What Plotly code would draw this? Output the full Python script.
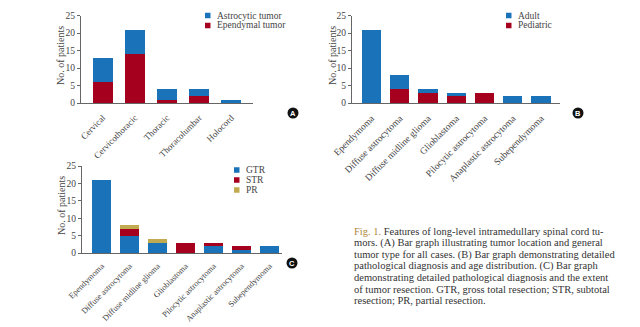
import plotly.graph_objects as go

W, H = 640, 327

# ---------------- data ----------------
loc_categories = ["Cervical", "Cervicothoracic", "Thoracic", "Thoracolumbar", "Holocord"]
loc_ependymal = [6, 14, 1, 2, 0]
loc_astrocytic = [7, 7, 3, 2, 1]

path_categories = ["Ependymoma", "Diffuse astrocytoma", "Diffuse midline glioma", "Glioblastoma",
                   "Pilocytic astrocytoma", "Anaplastic astrocytoma", "Subependymoma"]
age_pediatric = [0, 4, 3, 2, 3, 0, 0]
age_adult = [21, 4, 1, 1, 0, 2, 2]

res_gtr = [21, 5, 3, 0, 2, 1, 2]
res_str = [0, 2, 0, 3, 1, 1, 0]
res_pr = [0, 1, 1, 0, 0, 0, 0]

y_ticks = [0, 5, 10, 15, 20, 25]

BLUE = "#1a72b8"
RED = "#a6001f"
GOLD = "#c2aa50"
SERIF = "Liberation Serif, Times New Roman, serif"
AX = "#666666"
TXT = "#444444"


def px(x):
    return x / W


def py(y):
    return 1 - y / H


fig = go.Figure()

# Panel A
fig.add_trace(go.Bar(x=loc_categories, y=loc_ependymal, name="Ependymal tumor",
                     marker_color=RED, xaxis="x", yaxis="y", width=0.62))
fig.add_trace(go.Bar(x=loc_categories, y=loc_astrocytic, name="Astrocytic tumor",
                     marker_color=BLUE, xaxis="x", yaxis="y", width=0.62))
# Panel B
fig.add_trace(go.Bar(x=path_categories, y=age_pediatric, name="Pediatric",
                     marker_color=RED, xaxis="x2", yaxis="y2", width=0.68))
fig.add_trace(go.Bar(x=path_categories, y=age_adult, name="Adult",
                     marker_color=BLUE, xaxis="x2", yaxis="y2", width=0.68))
# Panel C
fig.add_trace(go.Bar(x=path_categories, y=res_gtr, name="GTR",
                     marker_color=BLUE, xaxis="x3", yaxis="y3", width=0.68))
fig.add_trace(go.Bar(x=path_categories, y=res_str, name="STR",
                     marker_color=RED, xaxis="x3", yaxis="y3", width=0.68))
fig.add_trace(go.Bar(x=path_categories, y=res_pr, name="PR",
                     marker_color=GOLD, xaxis="x3", yaxis="y3", width=0.68))
for t in fig.data:
    t.marker.line.width = 0

xcommon = dict(showline=True, linecolor=AX, linewidth=1, ticks="", tickangle=-45,
               showgrid=False, zeroline=False, fixedrange=True, automargin=False)
ycommon = dict(showline=True, linecolor=AX, linewidth=1, ticks="outside", ticklen=3,
               tickcolor=AX, tickvals=y_ticks, range=[0, 25],
               tickfont=dict(family=SERIF, size=9.5, color=TXT), showgrid=False,
               zeroline=False, fixedrange=True, automargin=False)

fig.update_layout(
    template="none",
    width=W, height=H, margin=dict(l=0, r=0, t=0, b=0, pad=0),
    paper_bgcolor="white", plot_bgcolor="white",
    barmode="stack", showlegend=False,
    xaxis=dict(xcommon, domain=[px(81), px(253)], range=[-0.68, 4.68], anchor="y",
               ticklabelstandoff=5, tickfont=dict(family=SERIF, size=9, color=TXT)),
    yaxis=dict(ycommon, domain=[py(103), py(15.5)], anchor="x"),
    xaxis2=dict(xcommon, domain=[px(352), px(560)], range=[-0.69, 6.67], anchor="y2",
                ticklabelstandoff=5, tickfont=dict(family=SERIF, size=9.5, color=TXT)),
    yaxis2=dict(ycommon, domain=[py(103), py(15.5)], anchor="x2"),
    xaxis3=dict(xcommon, domain=[px(82), px(282)], range=[-0.7, 6.45], anchor="y3",
                ticklabelstandoff=4, tickfont=dict(family=SERIF, size=8.3, color=TXT)),
    yaxis3=dict(ycommon, domain=[py(253), py(166)], anchor="x3"),
)

annotations = []
shapes = []

# y-axis titles
for (x, y) in [(61, 56), (333, 56), (61, 206)]:
    annotations.append(dict(x=px(x), y=py(y), xref="paper", yref="paper", text="No. of patients",
                            textangle=-90, showarrow=False, xanchor="center", yanchor="middle",
                            font=dict(family=SERIF, size=10, color=TXT)))

# legends (manual, compact)
def legend(items, x0, y0, dy=10):
    for i, (name, col) in enumerate(items):
        yc = y0 + i * dy
        shapes.append(dict(type="rect", xref="paper", yref="paper",
                           x0=px(x0), x1=px(x0 + 5.5), y0=py(yc + 2.75), y1=py(yc - 2.75),
                           fillcolor=col, line=dict(width=0)))
        annotations.append(dict(x=px(x0 + 9.5), y=py(yc), xref="paper", yref="paper", text=name,
                                xanchor="left", yanchor="middle", showarrow=False,
                                font=dict(family=SERIF, size=9.5, color=TXT)))


legend([("Astrocytic tumor", BLUE), ("Ependymal tumor", RED)], 205, 15.5)
legend([("Adult", BLUE), ("Pediatric", RED)], 506, 15.5)
legend([("GTR", BLUE), ("STR", RED), ("PR", GOLD)], 234, 170)

# panel badges
for (x, y, lab) in [(293, 113, "A"), (578, 113, "B"), (292, 263, "C")]:
    r = 5.5
    shapes.append(dict(type="circle", xref="paper", yref="paper",
                       x0=px(x - r), x1=px(x + r), y0=py(y + r), y1=py(y - r),
                       fillcolor="#111111", line=dict(width=0)))
    annotations.append(dict(x=px(x), y=py(y), xref="paper", yref="paper", text="<b>%s</b>" % lab,
                            showarrow=False, xanchor="center", yanchor="middle",
                            font=dict(family="Liberation Sans, Arial, sans-serif", size=7.5,
                                      color="white")))

# caption
caption_lines = [
    "<span style='color:#b08a3e'>Fig. 1.</span> Features of long-level intramedullary spinal cord tu-",
    "mors. (A) Bar graph illustrating tumor location and general",
    "tumor type for all cases. (B) Bar graph demonstrating detailed",
    "pathological diagnosis and age distribution. (C) Bar graph",
    "demonstrating detailed pathological diagnosis and the extent",
    "of tumor resection. GTR, gross total resection; STR, subtotal",
    "resection; PR, partial resection.",
]
for i, line in enumerate(caption_lines):
    annotations.append(dict(x=px(352), y=py(231.5 + i * 11.55), xref="paper", yref="paper",
                            text=line, xanchor="left", yanchor="middle", showarrow=False,
                            font=dict(family=SERIF, size=10.5, color="#333333")))

fig.update_layout(annotations=annotations, shapes=shapes)
fig.write_html("out.html")
